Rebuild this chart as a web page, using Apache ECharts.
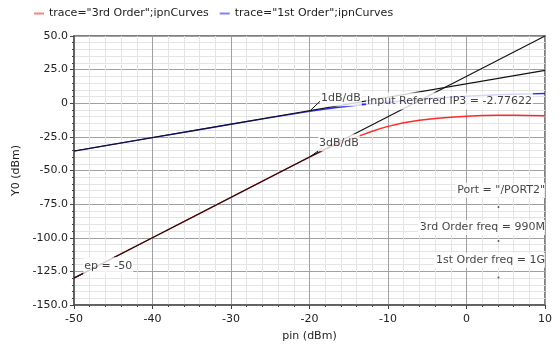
<!DOCTYPE html>
<html>
<head>
<meta charset="utf-8">
<script src="https://cdn.jsdelivr.net/npm/echarts@6/dist/echarts.min.js"></script>
<style>
html,body{margin:0;padding:0;background:#fff;}
#chart{width:560px;height:347px;}
</style>
</head>
<body>
<div id="chart"></div>
<script>
// ---- data ----
const pin = [-50, -45, -40, -35, -30, -25, -22, -20, -18, -16, -14, -12, -11, -10, -8, -6, -4, -2, 0, 2, 4, 6, 8, 10];
const thirdOrder = [-130, -115, -100, -85, -70, -55, -46, -40, -34.5, -29.5, -25, -20.8, -18.9, -17.2, -14.5, -12.6, -11.3, -10.4, -9.7, -9.1, -8.9, -8.9, -9.1, -9.3];
const firstOrder = [-35.6, -30.6, -25.6, -20.6, -15.6, -10.7, -7.9, -6.0, -4.3, -2.8, -1.5, -0.4, 0.1, 0.7, 1.8, 2.8, 3.7, 4.5, 5.2, 5.8, 6.3, 6.7, 7.0, 7.2];
const fitPin = [-50, 10];
const fit1 = [-35.55, 24.45];
const fit3 = [-130, 50];
const xTicks = [-50, -40, -30, -20, -10, 0, 10];
const yTicks = [-150, -125, -100, -75, -50, -25, 0, 25, 50];
const seriesNames = ['trace="3rd Order";ipnCurves', 'trace="1st Order";ipnCurves'];
// annotation texts with their anchor values (data space)
const noteTexts = ['1dB/dB', '3dB/dB', 'Input Referred IP3 = -2.77622', 'ep = -50'];
const notePin = [-18.66, -18.92, -12.8, -48.82];
const noteY = [4.0, -29.3, 1.66, -120.8];
const leaderFrom = [[-19.9, -5.45], [-19.94, -39.8], [-50, -130]];
const leaderTo = [[-18.66, 1.5], [-18.45, -33.6], [-48.05, -124.4]];
const sideTexts = ['Port = "/PORT2"', '3rd Order freq = 990M', '1st Order freq = 1G'];
const sideY = [-64.6, -92.4, -116.8];
const dotPin = [4.08, 4.08, 4.08];
const dotY = [-77.2, -102.5, -129.6];

const FONT = 'DejaVu Sans';
const chart = echarts.init(document.getElementById('chart'), null, {renderer: 'canvas'});
const pairs = (xs, ys) => xs.map((x, i) => [x, ys[i]]);

const option = {
  animation: false,
  backgroundColor: '#fff',
  textStyle: {fontFamily: FONT},
  legend: {
    left: 29, top: 3,
    icon: 'rect', itemWidth: 10, itemHeight: 2, itemGap: 11,
    textStyle: {fontFamily: FONT, fontSize: 11, color: '#222'},
    data: [
      {name: seriesNames[0], itemStyle: {color: '#ff8080'}},
      {name: seriesNames[1], itemStyle: {color: '#8080ff'}}
    ]
  },
  grid: {left: 74, right: 15, top: 36, bottom: 40, show: true, borderColor: '#808080', borderWidth: 2, backgroundColor: '#fff'},
  xAxis: {
    type: 'value', min: xTicks[0], max: xTicks[xTicks.length - 1], interval: 10,
    name: 'pin (dBm)', nameLocation: 'middle', nameGap: 26,
    nameTextStyle: {fontFamily: FONT, fontSize: 11, color: '#222'},
    axisLine: {onZero: false, lineStyle: {color: '#555', width: 1.5}},
    axisTick: {show: true, length: 4, lineStyle: {color: '#444'}},
    minorTick: {show: true, splitNumber: 5, length: 2, lineStyle: {color: '#444'}},
    axisLabel: {fontFamily: FONT, fontSize: 11, color: '#222', margin: 9},
    splitLine: {show: true, lineStyle: {color: '#a0a0a0', width: 1}},
    minorSplitLine: {show: true, lineStyle: {color: '#e4e4e4', width: 1}}
  },
  yAxis: {
    type: 'value', min: yTicks[0], max: yTicks[yTicks.length - 1], interval: 25,
    name: 'Y0 (dBm)', nameLocation: 'middle', nameGap: 52,
    nameTextStyle: {fontFamily: FONT, fontSize: 11, color: '#222'},
    axisLine: {onZero: false, lineStyle: {color: '#555', width: 1.5}},
    axisTick: {show: true, length: 4, lineStyle: {color: '#444'}},
    minorTick: {show: true, splitNumber: 5, length: 2, lineStyle: {color: '#444'}},
    axisLabel: {fontFamily: FONT, fontSize: 11, color: '#222', margin: 6,
      formatter: v => v === 0 ? '0' : v.toFixed(1)},
    splitLine: {show: true, lineStyle: {color: '#a0a0a0', width: 1}},
    minorSplitLine: {show: true, lineStyle: {color: '#e4e4e4', width: 1}}
  },
  series: [
    {name: seriesNames[0], type: 'line', data: pairs(pin, thirdOrder), symbol: 'none', z: 2,
      lineStyle: {color: '#ff2a2a', width: 1.4}, itemStyle: {color: '#ff2a2a'}},
    {name: seriesNames[1], type: 'line', data: pairs(pin, firstOrder), symbol: 'none', z: 2,
      lineStyle: {color: '#2a2aff', width: 1.4}, itemStyle: {color: '#2a2aff'}},
    {name: 'fit1', type: 'line', data: pairs(fitPin, fit1), symbol: 'none', z: 3, silent: true,
      lineStyle: {color: '#111', width: 1.1}},
    {name: 'fit3', type: 'line', data: pairs(fitPin, fit3), symbol: 'none', z: 3, silent: true,
      lineStyle: {color: '#111', width: 1.1}},
    {name: 'leaders', type: 'lines', coordinateSystem: 'cartesian2d', z: 4, silent: true,
      lineStyle: {color: '#111', width: 1, opacity: 1},
      data: leaderFrom.map((f, i) => ({coords: [f, leaderTo[i]]}))},
    {name: 'notes', type: 'scatter', symbolSize: 0, z: 6, silent: true,
      data: noteTexts.map((t, i) => ({value: [notePin[i], noteY[i]], label: {formatter: t}})),
      label: {show: true, position: 'right', distance: 0, fontFamily: FONT, fontSize: 11, color: '#111',
        backgroundColor: '#fff', padding: [3, 1, 3, 1]}},
    {name: 'side', type: 'scatter', symbolSize: 0, z: 6, silent: true,
      data: sideTexts.map((t, i) => ({value: [xTicks[xTicks.length - 1], sideY[i]], label: {formatter: t}})),
      label: {show: true, position: 'left', distance: 0, fontFamily: FONT, fontSize: 11, color: '#111',
        backgroundColor: '#fff', padding: [2, 0, 2, 2]}},
    {name: 'dots', type: 'scatter', symbolSize: 2, z: 6, silent: true,
      itemStyle: {color: '#333'}, data: pairs(dotPin, dotY)}
  ]
};
chart.setOption(option);
</script>
</body>
</html>
